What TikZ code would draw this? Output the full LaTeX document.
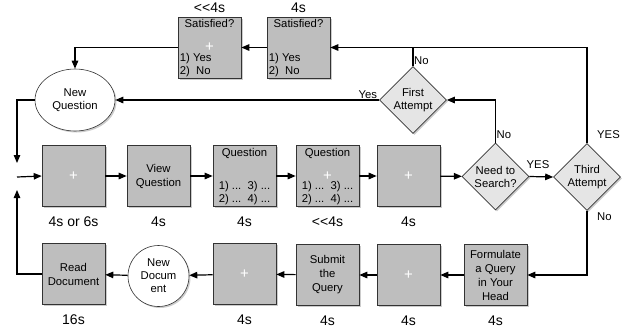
\documentclass[tikz,border=0pt]{standalone}
\usepackage{fontspec}
\setmainfont{Liberation Sans}
\usetikzlibrary{shapes.geometric, shadows, arrows.meta}
\definecolor{boxgray}{RGB}{190,190,190}
\definecolor{choicegray}{RGB}{229,229,229}
\tikzset{
  shade/.style={drop shadow={shadow xshift=1.5pt, shadow yshift=-1.5pt, opacity=0.4}},
  box/.style={draw=black!80, line width=0.6pt, fill=boxgray, shade, minimum width=63pt, minimum height=61pt, inner sep=1pt, align=center, font=\fontsize{11.3}{14}\selectfont},
  choice/.style={diamond, draw=black!80, line width=0.6pt, fill=choicegray, shade, minimum width=67pt, minimum height=67pt, inner sep=0pt, align=center, font=\fontsize{11.3}{13}\selectfont},
  bubble/.style={draw=black!80, line width=0.6pt, fill=white, shade, align=center, inner sep=0pt, font=\fontsize{11.3}{13}\selectfont},
  timing/.style={font=\fontsize{14}{16}\selectfont},
  small/.style={font=\fontsize{11.3}{13}\selectfont, inner sep=1pt, align=center},
  flow/.style={line width=1.2pt, ->}
}
\newcommand{\plus}{\textcolor{white}{\fontsize{15}{15}\selectfont+}}
\newcommand{\muchless}{<\kern0pt<}

\begin{document}
\begin{tikzpicture}[x=1pt, y=-1pt, >={Triangle[length=8pt,width=6.5pt]}]
  \useasboundingbox (0,0) rectangle (623,335);

  % top row
  \node[box] (satone) at (209.5,47.5) {\plus};
  \node[box] (sattwo) at (298.5,47.5) {};
  \foreach \b/\t in {satone/{\muchless4s}, sattwo/4s} {
    \node[timing] at ([yshift=9pt]\b.north) {\t};
    \node[small, anchor=north] at ([yshift=-1pt]\b.north) {Satisfied?};
    \node[small, anchor=south west, align=left] at ([xshift=1pt]\b.south west) {1) Yes\\2)\ \ No};
  }
  \node[bubble, ellipse, minimum width=80pt, minimum height=62pt] (newq) at (75,100) {New\\Question};
  \node[choice] (first) at (413,100) {First\\Attempt};

  % middle row
  \node[box] (start) at (73.5,176) {\plus};
  \node[box] (view) at (158.5,176) {View\\Question};
  \node[box] (qone) at (244.5,176) {};
  \node[box] (qtwo) at (327.5,176) {\plus};
  \node[box] (waitb) at (408.5,176) {\plus};
  \node[choice] (search) at (495.5,176.5) {Need to\\Search?};
  \node[choice] (third) at (587,177) {Third\\Attempt};
  \foreach \b in {qone, qtwo} {
    \node[small, anchor=north] at ([yshift=-2pt]\b.north) {Question};
    \node[small, anchor=south] at ([yshift=1pt]\b.south) {1) ...\ \ 3) ...\\2) ...\ \ 4) ...};
  }

  % bottom row
  \node[box] (read) at (73.5,274) {Read\\Document};
  \node[bubble, circle, minimum size=61pt] (newdoc) at (158.5,276) {New\\Docum\\ent};
  \node[box] (waitc) at (244.5,274) {\plus};
  \node[box] (submit) at (327.5,275) {Submit\\the\\Query};
  \node[box] (waitd) at (408.5,275) {\plus};
  \node[box] (form) at (495.5,275) {Formulate\\a Query\\in Your\\Head};

  % timings
  \foreach \b/\t in {start/4s or 6s, view/4s, qone/4s, qtwo/{\muchless4s}, waitb/4s, read/16s, waitc/4s, submit/4s, waitd/4s, form/4s}
    \node[timing] at ([yshift=-14.5pt]\b.south) {\t};

  \coordinate (merge) at (17,177);
  \coordinate (mergetop) at (17,163);
  \coordinate (mergebot) at (17,190);

  % connectors
  \draw[flow] (sattwo.west) -- (satone.east);
  \draw[flow] (satone.west) -| (newq.north);
  \draw[flow] (third.north) |- (sattwo.east);
  \draw[line width=1.2pt] (first.north) -- (first.north |- sattwo.east);
  \draw[flow] (first.west) -- (newq.east);
  \draw[flow] (search.north) |- (first.east);
  \draw[flow] (newq.west) -| (mergetop);
  \draw[flow] (read.west) -| (mergebot);
  \draw[flow] (merge) -- (start.west);
  \draw[flow] (start) -- (view);
  \draw[flow] (view) -- (qone);
  \draw[flow] (qone) -- (qtwo);
  \draw[flow] (qtwo) -- (waitb);
  \draw[flow] (waitb) -- (search);
  \draw[flow] (search.east) -- (third.west);
  \draw[flow] (third.south) |- (form.east);
  \draw[flow] (form) -- (waitd);
  \draw[flow] (waitd) -- (submit);
  \draw[flow] (submit) -- (waitc);
  \draw[flow] (waitc) -- (newdoc);
  \draw[flow] (newdoc) -- (read);

  % branch labels
  \node[small, anchor=south west] at (first.north) {No};
  \node[small, anchor=south east] at ([xshift=-1pt]first.west) {Yes};
  \node[small, anchor=south west] at ([yshift=3pt]search.north) {No};
  \node[small] at (538,165) {YES};
  \node[small, anchor=south west] at ([xshift=9pt,yshift=3pt]third.north) {YES};
  \node[small, anchor=north west] at ([xshift=9pt,yshift=-1pt]third.south) {No};
\end{tikzpicture}
\end{document}
